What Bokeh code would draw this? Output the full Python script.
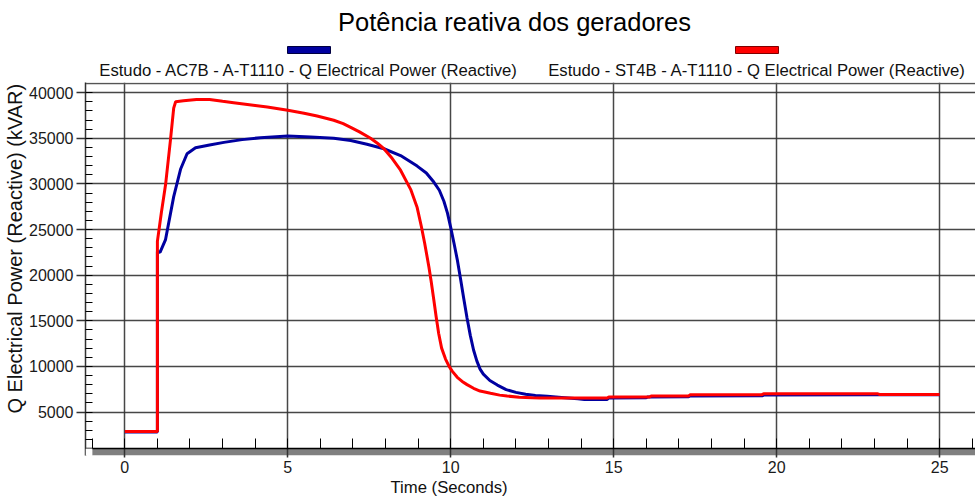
from bokeh.plotting import figure
from bokeh.layouts import column
from bokeh.models import (Range1d, SingleIntervalTicker, FixedTicker, LinearAxis,
                          BoxAnnotation, Span, Title)
from bokeh.core.properties import value
from bokeh.embed import file_html
from bokeh.resources import INLINE

# ---------------- data ----------------
title_text = "Potência reativa dos geradores"
series_names = [
    "Estudo - AC7B - A-T1110 - Q Electrical Power (Reactive)",
    "Estudo - ST4B - A-T1110 - Q Electrical Power (Reactive)",
]
series_colors = ["#0000a0", "#ff0000"]
series_edge_colors = ["#000040", "#800000"]
x_label = "Time (Seconds)"
y_label = "Q Electrical Power (Reactive) (kVAR)"

t_ac7b = [0.0, 1.0, 1.0, 1.08, 1.25, 1.5, 1.71, 1.91, 2.17, 2.6, 3.04, 3.6, 4.16,
          5.0, 5.7, 6.41, 6.93, 7.43, 7.95, 8.46, 8.97, 9.25, 9.48, 9.65, 9.79,
          9.9, 10.0, 10.1, 10.2, 10.3, 10.4, 10.5, 10.6, 10.7, 10.8, 10.9, 11.0,
          11.2, 11.43, 11.7, 12.0, 12.3, 12.6, 12.96, 13.4, 13.9, 14.1, 14.8,
          14.85, 16.0, 16.05, 17.3, 17.35, 19.55, 19.6, 23.1, 25.0]
q_ac7b = [2800, 2800, 22600, 22500, 23900, 28600, 31600, 33300, 33950, 34250,
          34550, 34850, 35060, 35250, 35150, 35000, 34750, 34350, 33850, 33100,
          31950, 31200, 30200, 29300, 28100, 26800, 25200, 23500, 21700, 19600,
          17400, 15300, 13400, 11800, 10600, 9700, 9150, 8450, 7950, 7450, 7150,
          6950, 6820, 6730, 6600, 6450, 6380, 6380, 6540, 6560, 6650, 6680, 6760,
          6780, 6860, 6880, 6880]

t_st4b = [0.0, 1.0, 1.0, 1.12, 1.25, 1.4, 1.5, 1.56, 1.8, 2.2, 2.6, 3.0, 3.34,
          4.0, 4.37, 5.0, 5.5, 5.9, 6.41, 6.7, 6.93, 7.2, 7.54, 7.75, 7.95, 8.2,
          8.46, 8.77, 8.97, 9.1, 9.2, 9.33, 9.4, 9.48, 9.55, 9.63, 9.72, 9.84,
          9.95, 10.05, 10.2, 10.35, 10.5, 10.7, 10.9, 11.22, 11.5, 11.73, 12.1,
          12.5, 12.75, 14.8, 14.85, 16.1, 16.15, 17.3, 17.35, 19.55, 19.6, 23.1,
          23.15, 25.0]
q_st4b = [2850, 2850, 23700, 26800, 29900, 34800, 38300, 39000, 39100, 39250,
          39250, 39050, 38900, 38600, 38430, 38070, 37750, 37440, 36970, 36600,
          36200, 35700, 35000, 34450, 33850, 32800, 31500, 29400, 27400, 25300,
          23500, 20900, 19300, 17300, 15500, 13600, 12000, 10800, 10000, 9450,
          8800, 8350, 8000, 7600, 7300, 7050, 6850, 6750, 6620, 6560, 6540, 6540,
          6650, 6650, 6760, 6760, 6900, 6900, 7000, 7000, 6920, 6920]

x_start, x_end = -1.206, 26.1
y_start, y_end = 233, 41110
y_axis_base = 1000
y_top_border = 41000
x_minor = list(range(-1, 27))

FONT = "Liberation Sans"

# ---------------- header (title + legend) ----------------
# the header frame is aligned with the main frame (page x 85..975)
hdr = figure(width=975, height=82, x_range=Range1d(85, 975), y_range=Range1d(82, 0),
             x_axis_type=None, y_axis_type=None, output_backend="svg",
             toolbar_location=None, min_border=0, title=None)
hdr.outline_line_color = None
hdr.grid.visible = False
hdr.text(x=[514], y=[21], text=[title_text], text_font=value(FONT),
         text_font_size=value("25.5px"), text_align="center",
         text_baseline="middle", text_color="black")
hdr.quad(left=[287, 735], right=[330, 778], top=[46, 46], bottom=[53, 53],
         fill_color=series_colors, line_color=series_edge_colors, line_width=1)
hdr.text(x=[308.5, 756.5], y=[70, 70], text=series_names, text_font=value(FONT),
         text_font_size=value("16.7px"), text_align="center",
         text_baseline="middle", text_color="#111111")

# ---------------- main plot ----------------
p = figure(width=975, height=415, x_range=Range1d(x_start, x_end),
           y_range=Range1d(y_start, y_end), output_backend="svg",
           toolbar_location=None, min_border_left=85, min_border_right=0,
           min_border_top=0, min_border_bottom=42, title=None)
p.outline_line_color = None
p.background_fill_color = "white"
p.border_fill_color = "white"

xt = SingleIntervalTicker(interval=5, num_minor_ticks=5)
yt = SingleIntervalTicker(interval=5000, num_minor_ticks=5)

xa = p.xaxis[0]
xa.ticker = xt
xa.major_tick_in = 7
xa.major_tick_out = 2
xa.minor_tick_in = 0
xa.minor_tick_out = 0
xa.major_label_standoff = 3
xa.major_label_text_font = FONT
xa.major_label_text_font_size = "16px"
xa.major_label_text_color = "#1a1a1a"
xa.axis_line_color = None
xa.major_tick_line_color = "#333333"
xa.major_tick_line_width = 1.5

ya = p.yaxis[0]
ya.ticker = yt
ya.major_tick_in = 0
ya.major_tick_out = 9
ya.minor_tick_in = 7
ya.minor_tick_out = 0
ya.major_label_standoff = 3
ya.major_label_text_font = FONT
ya.major_label_text_font_size = "16px"
ya.major_label_text_color = "#1a1a1a"
ya.axis_line_color = "#333333"
ya.axis_line_width = 1.5
ya.major_tick_line_color = "#333333"
ya.major_tick_line_width = 1.5
ya.minor_tick_line_color = "black"
ya.minor_tick_line_width = 1

p.xgrid.ticker = xt
p.ygrid.ticker = yt
for g in (p.xgrid[0], p.ygrid[0]):
    g.grid_line_color = "#333333"
    g.grid_line_width = 1.5
    g.grid_line_alpha = 0.9

# grey shadow band below the x axis line
p.add_layout(BoxAnnotation(left=-1.0, top=y_axis_base, fill_color="#808080",
                           fill_alpha=1.0, line_color=None, level="underlay"))
# blank the corner left of the shadow so the frame's left line stops at the base
p.add_layout(BoxAnnotation(right=-1.0, top=y_axis_base, fill_color="white",
                           fill_alpha=1.0, line_color=None, level="overlay"))

# top border
p.add_layout(Span(location=y_top_border, dimension="width", line_color="#555555",
                  line_width=1.5))

# series
p.line(t_ac7b, q_ac7b, line_color=series_colors[0], line_width=3)
p.line(t_st4b, q_st4b, line_color=series_colors[1], line_width=3)

# axis titles
p.add_layout(Title(text=x_label, align="left", offset=305, standoff=0,
                   text_font=FONT, text_font_size="16.7px",
                   text_font_style="normal", text_color="#111111"), "below")
p.add_layout(Title(text=y_label, align="left", offset=42, standoff=2,
                   text_font=FONT, text_font_size="20px",
                   text_font_style="normal", text_color="#111111"), "left")

# x axis line with inward minor ticks, at the base value
base_axis = LinearAxis(fixed_location=y_axis_base,
                       ticker=FixedTicker(ticks=[], minor_ticks=x_minor),
                       major_tick_in=0, major_tick_out=0,
                       minor_tick_in=10, minor_tick_out=0,
                       minor_tick_line_color="black", minor_tick_line_width=1,
                       axis_line_color="black", axis_line_width=1.5)
p.add_layout(base_axis, "below")

layout = column(hdr, p, spacing=0)
open("out.html", "w").write(file_html(layout, INLINE))
